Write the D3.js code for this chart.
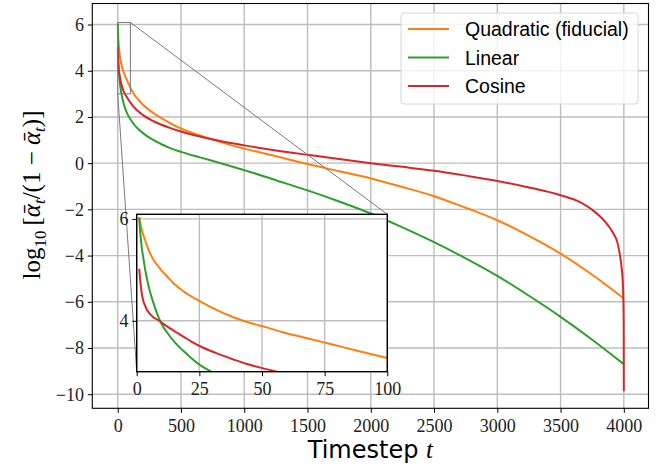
<!DOCTYPE html>
<html>
<head>
<meta charset="utf-8">
<script src="https://cdn.jsdelivr.net/npm/d3@7"></script>
<style>
  html, body { margin: 0; padding: 0; background: #ffffff; }
  svg { display: block; }
</style>
</head>
<body>
<script>
// ---------------- data ----------------
const seriesNames = ["Quadratic (fiducial)", "Linear", "Cosine"];
const seriesColors = ["#ff7f0e", "#2ca02c", "#d62728"];

const quadT = [1, 1.7, 2.4, 3.3, 4.2, 5.3, 6.8, 8.6, 10.2, 12, 15, 18.6, 25.3, 32, 38.6, 45, 51.9, 58, 65.2, 72, 78.5, 88, 100, 120, 150, 200, 300, 400, 500, 650, 800, 1000, 1250, 1500, 1750, 2000, 2250, 2500, 2750, 3000, 3250, 3500, 3750, 4000];
const quadV = [6.03, 5.86, 5.72, 5.59, 5.46, 5.33, 5.19, 5.07, 4.97, 4.88, 4.72, 4.58, 4.38, 4.21, 4.07, 3.96, 3.87, 3.78, 3.69, 3.61, 3.53, 3.41, 3.27, 3.06, 2.83, 2.53, 2.10, 1.78, 1.50, 1.20, 0.93, 0.63, 0.30, -0.04, -0.35, -0.66, -1.03, -1.43, -1.93, -2.47, -3.15, -3.92, -4.83, -5.86];

const linT = [1, 1.5, 2, 2.6, 3.3, 4, 5, 6.6, 8, 9.3, 10.6, 12, 15.3, 18.6, 21.5, 25.3, 29, 34, 40, 48, 58, 75, 100, 140, 200, 260, 334, 410, 500, 650, 800, 1000, 1250, 1500, 1750, 2000, 2250, 2500, 2750, 3000, 3250, 3500, 3750, 4000];
const linV = [6.03, 5.68, 5.44, 5.25, 5.03, 4.85, 4.63, 4.36, 4.16, 4.00, 3.88, 3.78, 3.57, 3.41, 3.28, 3.13, 3.02, 2.88, 2.73, 2.56, 2.38, 2.14, 1.90, 1.60, 1.30, 1.07, 0.85, 0.66, 0.49, 0.25, 0.02, -0.30, -0.74, -1.18, -1.66, -2.18, -2.78, -3.42, -4.12, -4.88, -5.74, -6.65, -7.64, -8.70];

const cosT = [1, 1.3, 1.6, 2, 2.6, 3.3, 4, 5.2, 6.6, 8, 9.3, 11.5, 14, 16.3, 18.6, 21.8, 25.3, 31.5, 38.6, 44, 50.1, 57, 66, 75, 87, 100, 120, 150, 200, 300, 400, 500, 650, 800, 1000, 1250, 1500, 1750, 2000, 2250, 2500, 2750, 3000, 3250, 3500, 3650, 3750, 3850, 3913, 3950, 3965, 3980, 3990, 3996, 3999, 4000];
const cosV = [5.02, 4.85, 4.70, 4.54, 4.40, 4.30, 4.22, 4.14, 4.07, 4.03, 3.99, 3.91, 3.83, 3.76, 3.69, 3.59, 3.50, 3.37, 3.24, 3.15, 3.07, 2.99, 2.91, 2.83, 2.73, 2.62, 2.48, 2.30, 2.08, 1.77, 1.55, 1.37, 1.15, 0.97, 0.77, 0.55, 0.36, 0.18, 0.00, -0.16, -0.33, -0.54, -0.77, -1.05, -1.39, -1.68, -2.02, -2.52, -3.00, -3.45, -3.85, -4.40, -5.00, -5.80, -7.00, -9.87];

const xTicks = [0, 500, 1000, 1500, 2000, 2500, 3000, 3500, 4000];
const yTicks = [-10, -8, -6, -4, -2, 0, 2, 4, 6];
const insetXTicks = [0, 25, 50, 75, 100];
const insetYTicks = [4, 6];
const insetXRange = [0, 100];
const insetYRange = [3.0, 6.09];

// ---------------- layout ----------------
const W = 659, H = 470;
const M = { left: 92.3, right: 648.5, top: 3.5, bottom: 408.3 };
const I = { left: 136.7, right: 387.3, top: 214.3, bottom: 371.7 };
const serif = "'Liberation Serif', 'DejaVu Serif', serif";
const sans = "'Liberation Sans', Arial, sans-serif";
const gridColor = "#bdbdbd";

const svg = d3.select("body").append("svg").attr("width", W).attr("height", H);
svg.append("rect").attr("width", W).attr("height", H).attr("fill", "#fff");

const x = d3.scaleLinear().domain([-201, 4195]).range([M.left, M.right]);
const y = d3.scaleLinear().domain([-10.61, 6.91]).range([M.bottom, M.top]);
const xi = d3.scaleLinear().domain(insetXRange).range([I.left, I.right]);
const yi = d3.scaleLinear().domain(insetYRange).range([I.bottom, I.top]);

const series = [
  { t: quadT, v: quadV },
  { t: linT, v: linV },
  { t: cosT, v: cosV }
].map((s, i) => ({ name: seriesNames[i], color: seriesColors[i], pts: s.t.map((t, k) => [t, s.v[k]]) }));

const defs = svg.append("defs");
defs.append("clipPath").attr("id", "clipMain").append("rect")
  .attr("x", M.left).attr("y", M.top).attr("width", M.right - M.left).attr("height", M.bottom - M.top);
defs.append("clipPath").attr("id", "clipInset").append("rect")
  .attr("x", I.left).attr("y", I.top).attr("width", I.right - I.left).attr("height", I.bottom - I.top);

// ---------------- main axes ----------------
const gridMain = svg.append("g");
gridMain.selectAll("line.gx").data(xTicks).join("line")
  .attr("x1", d => x(d)).attr("x2", d => x(d)).attr("y1", M.top).attr("y2", M.bottom)
  .attr("stroke", gridColor).attr("stroke-width", 1.4);
gridMain.selectAll("line.gy").data(yTicks).join("line")
  .attr("y1", d => y(d)).attr("y2", d => y(d)).attr("x1", M.left).attr("x2", M.right)
  .attr("stroke", gridColor).attr("stroke-width", 1.4);

const lineMain = d3.line().x(d => x(d[0])).y(d => y(d[1])).curve(d3.curveMonotoneX);
svg.append("g").attr("clip-path", "url(#clipMain)")
  .selectAll("path").data(series).join("path")
  .attr("d", d => lineMain(d.pts)).attr("fill", "none")
  .attr("stroke", d => d.color).attr("stroke-width", 2);

const gx = svg.append("g").attr("transform", `translate(0,${M.bottom})`)
  .call(d3.axisBottom(x).tickValues(xTicks).tickSize(4.5).tickFormat(d3.format("d")));
gx.select(".domain").remove();
gx.selectAll("line").attr("stroke", "#000").attr("stroke-width", 1);
gx.selectAll("text").attr("font-family", serif).attr("font-size", 18).attr("fill", "#222")
  .attr("y", 23.4).attr("dy", 0);

const gy = svg.append("g").attr("transform", `translate(${M.left},0)`)
  .call(d3.axisLeft(y).tickValues(yTicks).tickSize(4.5).tickFormat(d3.format("d")));
gy.select(".domain").remove();
gy.selectAll("line").attr("stroke", "#000").attr("stroke-width", 1);
gy.selectAll("text").attr("font-family", serif).attr("font-size", 18).attr("fill", "#222")
  .attr("x", -8.3).attr("dy", "0.33em");

svg.append("rect").attr("x", M.left).attr("y", M.top)
  .attr("width", M.right - M.left).attr("height", M.bottom - M.top)
  .attr("fill", "none").attr("stroke", "#000").attr("stroke-width", 1.1);

// ---------------- zoom indicator ----------------
const zx0 = x(insetXRange[0]), zx1 = x(insetXRange[1]);
const zy0 = y(insetYRange[0]), zy1 = y(insetYRange[1]);
const ind = svg.append("g").attr("stroke", "#7a7a7a").attr("stroke-width", 1).attr("fill", "none");
ind.append("rect").attr("x", zx0).attr("y", zy1).attr("width", zx1 - zx0).attr("height", zy0 - zy1);
ind.append("line").attr("x1", zx1).attr("y1", zy1).attr("x2", I.right).attr("y2", I.top);
ind.append("line").attr("x1", zx0).attr("y1", zy0).attr("x2", I.left).attr("y2", I.bottom);

// ---------------- inset ----------------
svg.append("rect").attr("x", I.left).attr("y", I.top)
  .attr("width", I.right - I.left).attr("height", I.bottom - I.top).attr("fill", "#fff");
const gridIn = svg.append("g");
gridIn.selectAll("line.gx").data(insetXTicks).join("line")
  .attr("x1", d => xi(d)).attr("x2", d => xi(d)).attr("y1", I.top).attr("y2", I.bottom)
  .attr("stroke", gridColor).attr("stroke-width", 1.4);
gridIn.selectAll("line.gy").data(insetYTicks).join("line")
  .attr("y1", d => yi(d)).attr("y2", d => yi(d)).attr("x1", I.left).attr("x2", I.right)
  .attr("stroke", gridColor).attr("stroke-width", 1.4);

const lineIn = d3.line().x(d => xi(d[0])).y(d => yi(d[1])).curve(d3.curveMonotoneX);
svg.append("g").attr("clip-path", "url(#clipInset)")
  .selectAll("path").data(series).join("path")
  .attr("d", d => lineIn(d.pts)).attr("fill", "none")
  .attr("stroke", d => d.color).attr("stroke-width", 2);

const gxi = svg.append("g").attr("transform", `translate(0,${I.bottom})`)
  .call(d3.axisBottom(xi).tickValues(insetXTicks).tickSize(4.5).tickFormat(d3.format("d")));
gxi.select(".domain").remove();
gxi.selectAll("line").attr("stroke", "#000").attr("stroke-width", 1);
gxi.selectAll("text").attr("font-family", serif).attr("font-size", 18).attr("fill", "#222")
  .attr("y", 23.3).attr("dy", 0);

const gyi = svg.append("g").attr("transform", `translate(${I.left},0)`)
  .call(d3.axisLeft(yi).tickValues(insetYTicks).tickSize(4.5).tickFormat(d3.format("d")));
gyi.select(".domain").remove();
gyi.selectAll("line").attr("stroke", "#000").attr("stroke-width", 1);
gyi.selectAll("text").attr("font-family", serif).attr("font-size", 18).attr("fill", "#222")
  .attr("x", -8.2).attr("dy", "0.33em");

svg.append("rect").attr("x", I.left).attr("y", I.top)
  .attr("width", I.right - I.left).attr("height", I.bottom - I.top)
  .attr("fill", "none").attr("stroke", "#000").attr("stroke-width", 1.4);

// ---------------- labels ----------------
const xl = svg.append("text").attr("x", (M.left + M.right) / 2).attr("y", 457.5)
  .attr("text-anchor", "middle").attr("fill", "#000");
xl.append("tspan").attr("font-family", "'DejaVu Sans', sans-serif").attr("font-size", 24).text("Timestep ");
xl.append("tspan").attr("font-family", serif).attr("font-style", "italic").attr("font-size", 25).text("t");

const yl = svg.append("text").attr("transform", "translate(40,195) rotate(-90)")
  .attr("text-anchor", "middle").attr("font-family", serif).attr("font-size", 25).attr("fill", "#000");
yl.append("tspan").text("log");
yl.append("tspan").attr("font-size", 17).attr("dy", 6).text("10");
yl.append("tspan").attr("dy", -6).text("\u2009[");
yl.append("tspan").attr("font-style", "italic").text("\u03B1\u0304");
yl.append("tspan").attr("font-style", "italic").attr("font-size", 17).attr("dy", 5).text("t");
yl.append("tspan").attr("dy", -5).text("/(1 \u2212 ");
yl.append("tspan").attr("font-style", "italic").text("\u03B1\u0304");
yl.append("tspan").attr("font-style", "italic").attr("font-size", 17).attr("dy", 5).text("t");
yl.append("tspan").attr("dy", -5).text(")]");

// ---------------- legend ----------------
const lg = svg.append("g");
lg.append("rect").attr("x", 401).attr("y", 13).attr("width", 237).attr("height", 91).attr("rx", 3)
  .attr("fill", "#fff").attr("fill-opacity", 0.8).attr("stroke", "#d6d6d6").attr("stroke-width", 1);
const rowY = [29, 57.5, 86];
series.forEach((s, i) => {
  lg.append("line").attr("x1", 408).attr("x2", 449).attr("y1", rowY[i]).attr("y2", rowY[i])
    .attr("stroke", s.color).attr("stroke-width", 2);
  lg.append("text").attr("x", 465).attr("y", rowY[i] + 7.3)
    .attr("font-family", sans).attr("font-size", 19.5).attr("fill", "#000").text(s.name);
});
</script>
</body>
</html>
